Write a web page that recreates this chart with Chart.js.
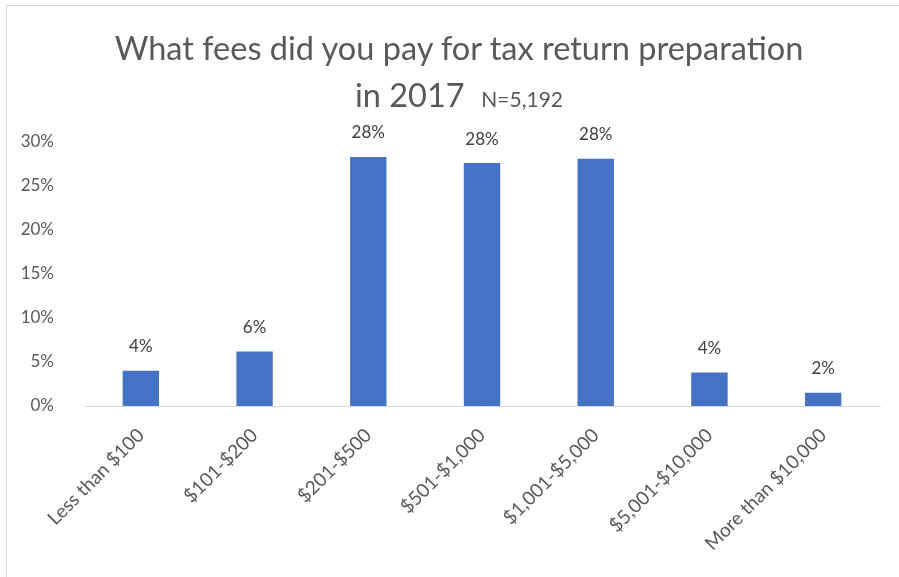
<!DOCTYPE html>
<html lang="en">
<head>
    <meta charset="UTF-8">
    <title>Tax return preparation fees</title>
    <script src="https://cdn.jsdelivr.net/npm/chart.js"></script>
    <style>
        body {
            margin: 0;
            background: #ffffff;
            font-family: Lato, sans-serif;
            overflow: hidden;
        }
        .frame {
            position: absolute;
            left: 6px;
            top: 5px;
            width: 910px;
            height: 590px;
            border: 1px solid #d9d9d9;
        }
        .title {
            position: absolute;
            left: 0;
            width: 918px;
            text-align: center;
            color: #595959;
            font-size: 32.5px;
            line-height: 38px;
        }
        .title small {
            font-size: 21px;
        }
        .wrap {
            position: absolute;
            left: 0;
            top: 0;
            width: 899px;
            height: 577px;
        }
    </style>
</head>
<body>
    <div class="frame"></div>
    <div class="wrap"><canvas id="feesChart" width="899" height="577"></canvas></div>
    <div class="title" style="top:29px">What fees did you pay for tax return preparation</div>
    <div class="title" style="top:76px">in 2017 &nbsp;<small>N=5,192</small></div>

    <script>
        const categories = ['Less than $100', '$101-$200', '$201-$500', '$501-$1,000',
                            '$1,001-$5,000', '$5,001-$10,000', 'More than $10,000'];
        const shares = [4.0, 6.2, 28.3, 27.6, 28.1, 3.8, 1.5];
        const yTicks = [0, 5, 10, 15, 20, 25, 30];

        // percent labels above each bar
        const barLabels = {
            id: 'barLabels',
            afterDatasetsDraw(chart) {
                const ctx = chart.ctx;
                const meta = chart.getDatasetMeta(0);
                ctx.save();
                ctx.font = '17px Lato';
                ctx.fillStyle = '#404040';
                ctx.textAlign = 'center';
                ctx.textBaseline = 'middle';
                meta.data.forEach((bar, i) => {
                    ctx.fillText(Math.round(shares[i]) + '%', bar.x, bar.y - 24);
                });
                ctx.restore();
            }
        };

        const ctx = document.getElementById('feesChart').getContext('2d');
        const chart = new Chart(ctx, {
            type: 'bar',
            data: {
                labels: categories,
                datasets: [{
                    data: shares,
                    backgroundColor: '#4472C4',
                    barPercentage: 0.32,
                    categoryPercentage: 1.0
                }]
            },
            options: {
                responsive: false,
                animation: false,
                layout: {
                    padding: { left: 6, right: 19, top: 142, bottom: 0 }
                },
                plugins: {
                    legend: { display: false },
                    tooltip: { enabled: false }
                },
                scales: {
                    x: {
                        grid: { display: false },
                        border: { display: true, color: '#d9d9d9', width: 1 },
                        ticks: {
                            color: '#595959',
                            font: { family: 'Lato', size: 19 },
                            minRotation: 45,
                            maxRotation: 45,
                            padding: 10
                        },
                        afterFit(scale) { scale.height = 171; }
                    },
                    y: {
                        min: 0,
                        max: 30,
                        grid: { display: false },
                        border: { display: false },
                        afterBuildTicks(scale) {
                            scale.ticks = yTicks.map(v => ({ value: v }));
                        },
                        ticks: {
                            color: '#595959',
                            font: { family: 'Lato', size: 17 },
                            padding: 22,
                            callback: v => v + '%'
                        },
                        afterFit(scale) { scale.width = 78; }
                    }
                }
            },
            plugins: [barLabels]
        });
    </script>
</body>
</html>
